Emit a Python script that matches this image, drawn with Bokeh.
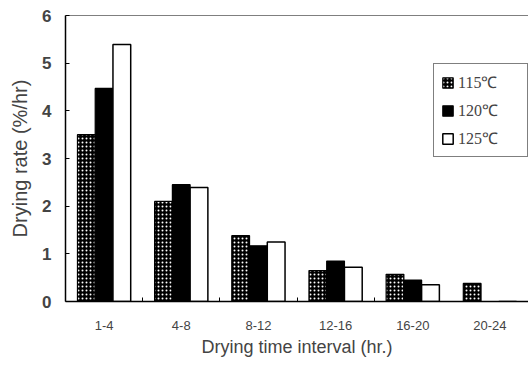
from bokeh.plotting import figure
from bokeh.models import FixedTicker, Span, Legend, LegendItem, ColumnDataSource, Range1d
from bokeh.transform import dodge
from bokeh.embed import file_html
from bokeh.resources import INLINE

categories = ["1-4", "4-8", "8-12", "12-16", "16-20", "20-24"]
rate_115 = [3.5, 2.1, 1.38, 0.65, 0.57, 0.38]
rate_120 = [4.47, 2.45, 1.17, 0.85, 0.45, 0.0]
rate_125 = [5.39, 2.39, 1.25, 0.72, 0.35, 0.0]
series_labels = ["115℃", "120℃", "125℃"]
y_ticks = [0, 1, 2, 3, 4, 5, 6]

pos = [i + 0.5 for i in range(len(categories))]
src = ColumnDataSource(dict(x=pos, r115=rate_115, r120=rate_120, r125=rate_125))

p = figure(width=528, height=367, output_backend="svg", toolbar_location=None,
           x_range=Range1d(0, len(categories)), y_range=Range1d(0, 6),
           min_border_left=65, min_border_right=0, min_border_top=15, min_border_bottom=66)
p.outline_line_color = None
p.xgrid.visible = False
p.ygrid.visible = False

w = 0.23
b1 = p.vbar(x=dodge("x", -w, range=p.x_range), top="r115", width=w, source=src,
            fill_color="black", line_color="black", line_width=1.2,
            hatch_pattern="dot", hatch_color="white", hatch_scale=4, hatch_weight=1)
b2 = p.vbar(x=dodge("x", 0, range=p.x_range), top="r120", width=w, source=src,
            fill_color="black", line_color="black", line_width=1.2)
b3 = p.vbar(x=dodge("x", w, range=p.x_range), top="r125", width=w, source=src,
            fill_color="white", line_color="black", line_width=1.5)

p.add_layout(Span(location=6, dimension="width", line_color="black", line_width=1.2))

# y axis
ya = p.yaxis[0]
ya.ticker = FixedTicker(ticks=y_ticks)
ya.major_tick_in = 4
ya.major_tick_out = 0
ya.minor_tick_line_color = None
ya.axis_line_width = 1.5
ya.major_label_text_font = "Liberation Sans"
ya.major_label_text_font_size = "17px"
ya.major_label_text_font_style = "bold"
ya.major_label_standoff = 14
ya.axis_label = "Drying rate (%/hr)"
ya.axis_label_text_font = "Liberation Sans"
ya.axis_label_text_font_size = "20px"
ya.axis_label_text_font_style = "normal"
ya.axis_label_standoff = 8

# x axis
xa = p.xaxis[0]
xa.ticker = FixedTicker(ticks=pos, minor_ticks=[1, 2, 3, 4])
xa.major_label_overrides = {float(v): c for v, c in zip(pos, categories)}
xa.major_tick_in = 0
xa.major_tick_out = 0
xa.minor_tick_in = 4
xa.minor_tick_out = 0
xa.axis_line_width = 1.5
xa.major_label_text_font = "Liberation Sans"
xa.major_label_text_font_size = "13px"
xa.major_label_standoff = 19
xa.axis_label = "Drying time interval (hr.)"
xa.axis_label_text_font = "Liberation Sans"
xa.axis_label_text_font_size = "18px"
xa.axis_label_text_font_style = "normal"
xa.axis_label_standoff = 4

legend = Legend(items=[LegendItem(label=series_labels[0], renderers=[b1]),
                       LegendItem(label=series_labels[1], renderers=[b2]),
                       LegendItem(label=series_labels[2], renderers=[b3])],
                location=(368, 144))
legend.label_text_font = "Liberation Serif"
legend.label_text_font_size = "16px"
legend.glyph_width = 13
legend.glyph_height = 13
legend.label_height = 20
legend.label_width = 62
legend.spacing = 6
legend.padding = 7
legend.margin = 0
legend.label_standoff = 4
legend.border_line_color = "black"
legend.border_line_width = 1.5
legend.background_fill_alpha = 1
p.add_layout(legend)

open("out.html", "w").write(file_html(p, INLINE))
